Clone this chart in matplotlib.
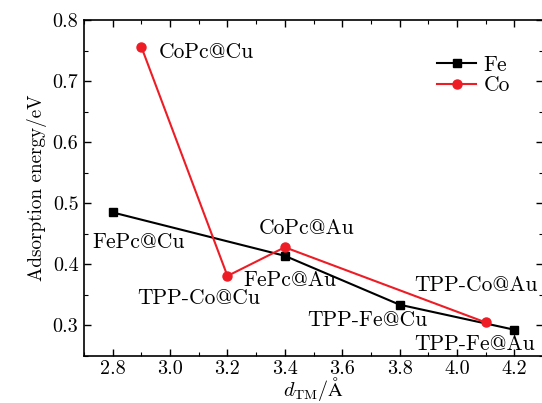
import matplotlib
matplotlib.use("Agg")
import matplotlib.pyplot as plt
from matplotlib.ticker import MultipleLocator

plt.rcParams['font.family'] = 'cmr10'
plt.rcParams['mathtext.fontset'] = 'cm'
plt.rcParams['axes.formatter.use_mathtext'] = True

fe_x = [2.8, 3.4, 3.8, 4.2]
fe_y = [0.485, 0.414, 0.334, 0.293]
fe_labels = ["FePc@Cu", "FePc@Au", "TPP-Fe@Cu", "TPP-Fe@Au"]

co_x = [2.9, 3.2, 3.4, 4.1]
co_y = [0.756, 0.381, 0.428, 0.305]
co_labels = ["CoPc@Cu", "TPP-Co@Cu", "CoPc@Au", "TPP-Co@Au"]

# offsets (pixels) of label left/center from the point
fe_off = [(-20, -30), (-41, -24), (-92, -16), (-100, -15)]
co_off = [(17, -5), (-90, -22), (-26, 19), (-71, 37)]

fig = plt.figure(figsize=(5.42, 4.03), dpi=100)
ax = fig.add_axes([84/542, 47/403, (543-84)/542, (356-20)/403])

ax.plot(fe_x, fe_y, '-s', color='black', lw=1.5, ms=6, label='Fe')
ax.plot(co_x, co_y, '-o', color='#ee1c25', lw=1.5, ms=6.5, label='Co')

for x, y, t, (dx, dy) in zip(fe_x, fe_y, fe_labels, fe_off):
    ax.annotate(t, (x, y), xytext=(dx*0.72, dy*0.72), textcoords='offset points',
                ha='left', va='center', fontsize=15.5)
for x, y, t, (dx, dy) in zip(co_x, co_y, co_labels, co_off):
    ax.annotate(t, (x, y), xytext=(dx*0.72, dy*0.72), textcoords='offset points',
                ha='left', va='center', fontsize=15.5)

ax.set_xlim(2.7, 4.3)
ax.set_ylim(0.25, 0.8)
ax.xaxis.set_major_locator(MultipleLocator(0.2))
ax.xaxis.set_minor_locator(MultipleLocator(0.1))
ax.yaxis.set_major_locator(MultipleLocator(0.1))
ax.yaxis.set_minor_locator(MultipleLocator(0.05))
ax.xaxis.set_major_formatter(plt.FuncFormatter(lambda v, p: f"{v:.1f}"))
ax.yaxis.set_major_formatter(plt.FuncFormatter(lambda v, p: f"{v:.1f}"))
ax.tick_params(which='both', direction='in', top=True, right=True, labelsize=14.5)
ax.tick_params(which='major', length=5, width=1)
ax.tick_params(axis='y', which='major', pad=4)
ax.tick_params(axis='x', which='major', pad=3)
ax.tick_params(which='minor', length=3, width=0.8)
for s in ax.spines.values():
    s.set_linewidth(1.2)

ax.set_xlabel(r"$d_{\rm TM}/\mathrm{\AA}$", fontsize=14.5, labelpad=-2)
ax.set_ylabel("Adsorption energy/eV", fontsize=13.8, labelpad=4)

leg = ax.legend(loc='upper left', bbox_to_anchor=(0.77, 0.895), frameon=False,
                fontsize=15.5, handlelength=1.8, handletextpad=0.35,
                labelspacing=0.05, borderpad=0, borderaxespad=0)

fig.savefig("out.png", dpi=100)
